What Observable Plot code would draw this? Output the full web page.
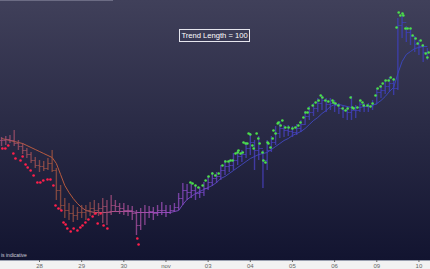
<!DOCTYPE html>
<html><head><meta charset="utf-8">
<script src="https://cdn.jsdelivr.net/npm/d3@7"></script>
<script src="https://cdn.jsdelivr.net/npm/@observablehq/plot@0.6"></script>
<style>
html,body{margin:0;padding:0;background:#fff}
#wrap{position:relative;width:430px;height:269px;overflow:hidden;
background:linear-gradient(to bottom,#40405a 0px,#121430 260px,#9aa0b0 260px,#9aa0b0 261px,#f2f2f2 261px,#f2f2f2 269px);
font-family:"Liberation Sans",Arial,sans-serif}
#topline{position:absolute;left:0;top:0;width:113px;height:1px;background:#6c6c84}
#title{position:absolute;left:179px;top:29px;width:69px;height:11px;border:1px solid #e6e6ee;color:#fff;font-size:7.6px;line-height:11px;text-align:center;white-space:nowrap}
#note{position:absolute;left:1px;top:252px;font-size:5px;color:#d0d0dc;white-space:nowrap}
svg{position:absolute;left:0;top:0}
</style></head><body>
<div id="wrap"><div id="topline"></div><div id="title">Trend Length = 100</div><div id="note">is indicative</div></div>
<script>
// x axis: trading days, Oct 28 = 0
const tickDays = [0,1,2,3,4,5,6,7,8,9];
const tickLabels = ["28","29","30","nov","03","04","05","06","09","10"];

// bars: 10 per trading day, first bar at day -0.9
const barStart = -0.9, barStep = 0.1;
const barHigh = [
 3446,3448,3450,3460,3440,3434,3424,3416,3406,
 3400,3398,3404,3420,3384,3350,3324,3314,3310,3306,
 3310,3310,3316,3320,3314,3324,3320,3330,3320,3314,
 3314,3310,3308,3300,3304,3310,3308,3306,3310,3316,
 3310,3310,3314,3334,3354,3352,3352,3348,3346,3356,
 3368,3376,3376,3390,3400,3400,3414,3420,3420,3436,
 3454,3440,3448,3420,3440,3448,3468,3478,3470,3470,
 3468,3472,3480,3498,3508,3514,3524,3530,3524,3524,
 3520,3514,3508,3508,3528,3510,3520,3514,3514,3520,
 3544,3550,3560,3566,3564,3684,3688,3668,3664,3648,
 3640,3632,3624];
const barLow = [
 3428,3430,3434,3428,3420,3412,3404,3394,3384,
 3376,3378,3380,3376,3320,3300,3284,3280,3276,3280,
 3284,3280,3288,3290,3288,3274,3270,3290,3296,3292,
 3290,3288,3280,3250,3260,3270,3284,3280,3288,3290,
 3286,3292,3296,3300,3310,3320,3324,3320,3324,3328,
 3340,3348,3354,3360,3370,3376,3380,3390,3396,3404,
 3410,3380,3400,3344,3380,3416,3430,3444,3446,3448,
 3446,3450,3456,3470,3480,3488,3496,3500,3496,3500,
 3496,3492,3484,3480,3480,3484,3496,3496,3496,3500,
 3512,3524,3532,3536,3530,3540,3644,3636,3630,3616,
 3610,3596,3600];
const barClose = [
 3440,3442,3440,3434,3428,3420,3412,3400,3390,
 3388,3384,3394,3380,3340,3310,3300,3294,3290,3296,
 3296,3300,3304,3300,3304,3308,3296,3310,3308,3304,
 3300,3300,3294,3270,3296,3296,3298,3294,3300,3300,
 3296,3300,3306,3324,3340,3336,3340,3334,3336,3344,
 3356,3364,3368,3380,3388,3390,3400,3408,3412,3424,
 3436,3420,3424,3400,3420,3436,3454,3464,3460,3458,
 3456,3464,3472,3488,3496,3504,3514,3520,3512,3514,
 3510,3504,3500,3496,3500,3500,3512,3508,3508,3512,
 3536,3540,3548,3554,3544,3670,3676,3656,3648,3632,
 3628,3616,3616];
const trendMA = [
 3444,3442,3440,3438,3436,3434,3430,3426,3422,
 3418,3414,3410,3406,3394,3372,3350,3336,3324,3314,
 3306,3300,3298,3296,3296,3296,3296,3298,3298,3298,
 3298,3298,3298,3296,3296,3296,3296,3296,3296,3296,
 3296,3296,3298,3300,3312,3322,3328,3334,3338,3342,
 3346,3350,3356,3364,3368,3374,3380,3386,3392,3398,
 3404,3408,3412,3414,3416,3422,3428,3434,3440,3444,
 3450,3454,3458,3464,3472,3480,3486,3494,3500,3508,
 3512,3512,3510,3508,3506,3506,3506,3508,3508,3510,
 3514,3520,3528,3538,3546,3574,3598,3612,3618,3624,
 3626,3628,3628];

// trend stops (red = down, green = up)
const redDay = [-0.88,-0.81,-0.74,-0.62,-0.57,-0.45,-0.40,-0.33,-0.28,-0.21,-0.14,-0.05,0.02,0.09,0.19,0.26,0.33,0.38,0.45,0.52,0.57,0.62,0.66,0.74,0.81,0.90,0.97,1.02,1.09,1.16,1.26,1.33,1.38,1.45,1.52,1.61,2.32,2.35];
const redVal = [3424,3424,3430,3414,3404,3400,3408,3392,3386,3380,3370,3356,3356,3360,3362,3362,3350,3310,3304,3300,3276,3272,3264,3258,3264,3260,3266,3270,3276,3282,3288,3294,3274,3294,3270,3264,3244,3232];
const greenDay = [3.58,3.63,3.70,3.77,3.87,3.94,4.01,4.10,4.17,4.25,4.34,4.41,4.48,4.53,4.58,4.65,4.70,4.72,4.77,4.82,4.84,4.89,4.93,4.96,5.00,5.05,5.08,5.15,5.19,5.22,5.29,5.31,5.36,5.41,5.43,5.48,5.53,5.55,5.60,5.65,5.67,5.72,5.76,5.83,5.91,6.00,6.07,6.14,6.19,6.26,6.31,6.36,6.38,6.48,6.55,6.62,6.67,6.71,6.78,6.85,6.95,6.97,7.02,7.09,7.19,7.26,7.31,7.38,7.42,7.45,7.54,7.61,7.66,7.69,7.78,7.85,7.90,7.97,8.02,8.09,8.14,8.21,8.28,8.33,8.40,8.47,8.52,8.56,8.61,8.63,8.68,8.73,8.80,8.85,8.92,8.97,9.04,9.09,9.16,9.20,9.23];
const greenVal = [3356,3354,3350,3346,3350,3360,3368,3374,3370,3374,3390,3398,3398,3400,3400,3414,3416,3420,3414,3416,3436,3434,3434,3454,3452,3430,3424,3454,3444,3434,3416,3400,3396,3436,3434,3426,3444,3460,3454,3474,3476,3470,3480,3466,3466,3464,3466,3470,3476,3486,3496,3496,3504,3510,3516,3520,3530,3526,3520,3518,3520,3516,3514,3510,3504,3500,3504,3526,3506,3504,3506,3520,3516,3510,3510,3508,3514,3530,3544,3548,3554,3560,3560,3566,3562,3666,3696,3690,3694,3690,3664,3664,3664,3650,3644,3634,3640,3630,3614,3606,3616];

const barColor = d3.scaleLinear()
  .domain([-0.95,0.3,1.2,1.8,3.0,3.8,4.8,9.3])
  .range(["#a8507c","#a05440","#985048","#b0508c","#a050c0","#7a48c8","#4c42c4","#3c40c0"])
  .interpolate(d3.interpolateRgb).clamp(true);
const maColor = d3.scaleLinear()
  .domain([-0.95,0.8,1.6,2.6,3.5,4.5,9.3])
  .range(["#cc6244","#c8603c","#c05a90","#a850c8","#7048c8","#4448c0","#3a48c4"])
  .interpolate(d3.interpolateRgb).clamp(true);

const bars = barHigh.map((h,i)=>({t: barStart + i*barStep, high:h, low:barLow[i], close:barClose[i], ma:trendMA[i], open: i ? barClose[i-1] : barClose[i]}));
const maSeg = bars.slice(1).map((b,i)=>({t1:bars[i].t, m1:bars[i].ma, t2:b.t, m2:b.ma}));
const reds = redDay.map((t,i)=>({t, v:redVal[i]}));
const greens = greenDay.map((t,i)=>({t, v:greenVal[i]}));

const chart = Plot.plot({
  width:430, height:269, marginTop:0, marginRight:0, marginLeft:0, marginBottom:9,
  style:{background:"transparent", color:"#666", fontSize:"6px", fontFamily:"Liberation Sans, Arial, sans-serif", overflow:"visible"},
  x:{domain:[-0.925,9.274], ticks:tickDays, tickFormat:d=>tickLabels[tickDays.indexOf(d)], tickSize:2, tickPadding:1, label:null},
  y:{domain:[3200,3720], axis:null},
  color:{type:"identity"},
  marks:[
    Plot.link(maSeg, {x1:"t1", y1:"m1", x2:"t2", y2:"m2", stroke:d=>maColor(d.t1), strokeWidth:1, strokeOpacity:0.9}),
    Plot.ruleX(bars, {x:"t", y1:"low", y2:"high", stroke:d=>barColor(d.t), strokeWidth:1.4, strokeOpacity:0.75}),
    Plot.link(bars, {x1:d=>d.t-0.05, x2:"t", y1:"open", y2:"open", stroke:d=>barColor(d.t), strokeWidth:1, strokeOpacity:0.7}),
    Plot.link(bars, {x1:"t", x2:d=>d.t+0.05, y1:"close", y2:"close", stroke:d=>barColor(d.t), strokeWidth:1, strokeOpacity:0.7}),
    Plot.dot(reds, {x:"t", y:"v", r:1.3, fill:"#ff1f4b"}),
    Plot.dot(greens, {x:"t", y:"v", r:1.3, fill:"#4be04b"})
  ]
});
document.getElementById("wrap").prepend(chart);
</script>
</body></html>
